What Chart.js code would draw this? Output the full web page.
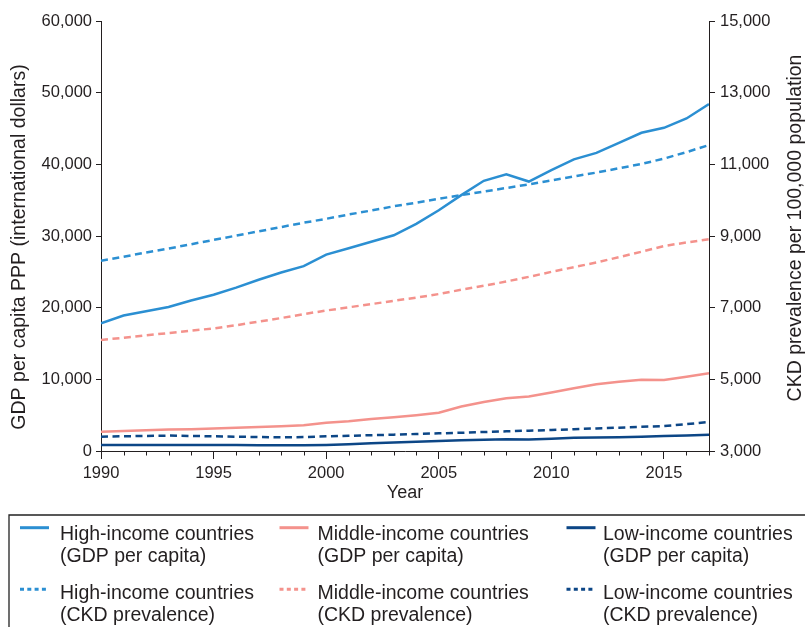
<!DOCTYPE html>
<html>
<head>
<meta charset="utf-8">
<script src="https://cdn.jsdelivr.net/npm/chart.js@4/dist/chart.umd.min.js"></script>
<style>
  html, body { margin: 0; padding: 0; background: #fff; overflow: hidden; }
  #wrap { position: relative; width: 805px; height: 627px; }
</style>
</head>
<body>
<div id="wrap"><canvas id="c" width="805" height="627"></canvas></div>
<script>
// Years on the x axis
const years = [1990, 1991, 1992, 1993, 1994, 1995, 1996, 1997, 1998, 1999,
               2000, 2001, 2002, 2003, 2004, 2005, 2006, 2007, 2008, 2009,
               2010, 2011, 2012, 2013, 2014, 2015, 2016, 2017];

// GDP per capita PPP (international dollars), left axis
const highGdp   = [17800, 18900, 19500, 20100, 21000, 21800, 22800, 23900, 24900, 25800,
                   27400, 28300, 29200, 30100, 31700, 33600, 35700, 37700, 38600, 37600,
                   39200, 40700, 41600, 43000, 44400, 45100, 46400, 48400];
const middleGdp = [2700, 2800, 2900, 3000, 3050, 3150, 3250, 3350, 3450, 3600,
                   3950, 4150, 4450, 4700, 5000, 5350, 6200, 6850, 7350, 7600,
                   8150, 8750, 9300, 9650, 9950, 9900, 10350, 10850];
const lowGdp    = [850, 850, 850, 840, 830, 820, 820, 810, 800, 800,
                   850, 950, 1080, 1200, 1300, 1400, 1500, 1580, 1650, 1600,
                   1700, 1850, 1870, 1920, 2000, 2080, 2180, 2280];

// CKD prevalence per 100,000 population, right axis
const highCkd   = [8310, 8420, 8540, 8650, 8770, 8890, 9010, 9130, 9250, 9370,
                   9480, 9600, 9710, 9830, 9930, 10040, 10140, 10240, 10340, 10440,
                   10550, 10660, 10770, 10890, 11010, 11160, 11340, 11540];
const middleCkd = [6100, 6160, 6230, 6290, 6360, 6420, 6510, 6610, 6710, 6820,
                   6920, 7010, 7100, 7190, 7280, 7380, 7500, 7610, 7730, 7860,
                   8000, 8130, 8260, 8410, 8560, 8720, 8820, 8910];
const lowCkd    = [3400, 3410, 3420, 3430, 3420, 3410, 3400, 3390, 3380, 3390,
                   3410, 3425, 3440, 3456, 3475, 3493, 3510, 3530, 3550, 3568,
                   3586, 3608, 3630, 3652, 3675, 3698, 3750, 3809];

// Axis settings
const gdpTicks = { min: 0, max: 60000, step: 10000 };
const ckdTicks = { min: 3000, max: 15000, step: 2000 };
const yearTicks = { min: 1990, max: 2017, major: 5 };

const leftTitle = 'GDP per capita PPP (international dollars)';
const rightTitle = 'CKD prevalence per 100,000 population';
const bottomTitle = 'Year';

const BLUE = '#2b8fd2';
const SALMON = '#f4928c';
const NAVY = '#0c4686';
const INK = '#231f20';
const FONT = '"Liberation Sans", Arial, sans-serif';

const pts = arr => years.map((y, i) => ({ x: y, y: arr[i] }));

function series(label, legendLines, arr, color, dashed, axis) {
  return {
    label: label,
    legendLines: legendLines,
    data: pts(arr),
    borderColor: color,
    backgroundColor: color,
    borderWidth: 2.5,
    borderDash: dashed ? [7, 4.5] : [],
    pointRadius: 0,
    tension: 0,
    fill: false,
    yAxisID: axis
  };
}

const datasets = [
  series('High-income countries (GDP per capita)', ['High-income countries', '(GDP per capita)'], highGdp, BLUE, false, 'y'),
  series('Middle-income countries (GDP per capita)', ['Middle-income countries', '(GDP per capita)'], middleGdp, SALMON, false, 'y'),
  series('Low-income countries (GDP per capita)', ['Low-income countries', '(GDP per capita)'], lowGdp, NAVY, false, 'y'),
  series('High-income countries (CKD prevalence)', ['High-income countries', '(CKD prevalence)'], highCkd, BLUE, true, 'y1'),
  series('Middle-income countries (CKD prevalence)', ['Middle-income countries', '(CKD prevalence)'], middleCkd, SALMON, true, 'y1'),
  series('Low-income countries (CKD prevalence)', ['Low-income countries', '(CKD prevalence)'], lowCkd, NAVY, true, 'y1')
];

// Minor year ticks, axis titles and the boxed legend
const decorations = {
  id: 'decorations',
  afterDraw(chart) {
    const ctx = chart.ctx;
    const xs = chart.scales.x;
    const area = chart.chartArea;
    ctx.save();

    // minor ticks for every year
    ctx.strokeStyle = INK;
    ctx.lineWidth = 1;
    for (let yr = yearTicks.min; yr <= yearTicks.max; yr++) {
      if (yr % yearTicks.major === 0) continue;
      const px = Math.round(xs.getPixelForValue(yr)) + 0.5;
      ctx.beginPath();
      ctx.moveTo(px, area.bottom);
      ctx.lineTo(px, area.bottom + 4.5);
      ctx.stroke();
    }

    // axis titles
    ctx.fillStyle = INK;
    ctx.font = '19.5px ' + FONT;
    ctx.textAlign = 'center';
    ctx.textBaseline = 'middle';
    ctx.save();
    ctx.translate(20, 247);
    ctx.rotate(-Math.PI / 2);
    ctx.fillText(leftTitle, 0, 0);
    ctx.restore();
    ctx.save();
    ctx.translate(796, 228);
    ctx.rotate(-Math.PI / 2);
    ctx.fillText(rightTitle, 0, 0);
    ctx.restore();
    ctx.font = '18px ' + FONT;
    ctx.textBaseline = 'alphabetic';
    ctx.fillText(bottomTitle, (area.left + area.right) / 2, 498);

    // legend box (open to the right and bottom)
    ctx.strokeStyle = '#222';
    ctx.lineWidth = 1.3;
    ctx.beginPath();
    ctx.moveTo(9, 640);
    ctx.lineTo(9, 515);
    ctx.lineTo(820, 515);
    ctx.stroke();

    const swatchX = [20, 279.5, 566.5];
    const textX = [60, 317.5, 603];
    const swatchY = [527.7, 589.3];
    const baseY = [[540, 562], [598.5, 620.5]];
    ctx.font = '19.5px ' + FONT;
    ctx.textAlign = 'left';
    chart.data.datasets.forEach((ds, i) => {
      const col = i % 3;
      const row = Math.floor(i / 3);
      ctx.strokeStyle = ds.borderColor;
      ctx.lineWidth = 3;
      ctx.setLineDash(ds.borderDash.length ? [4, 3.3] : []);
      ctx.beginPath();
      ctx.moveTo(swatchX[col], swatchY[row]);
      ctx.lineTo(swatchX[col] + 29, swatchY[row]);
      ctx.stroke();
      ctx.setLineDash([]);
      ctx.fillStyle = INK;
      ds.legendLines.forEach((line, k) => ctx.fillText(line, textX[col], baseY[row][k]));
    });
    ctx.restore();
  }
};

const tickFont = { family: FONT, size: 16.5 };

new Chart(document.getElementById('c'), {
  type: 'line',
  data: { datasets: datasets },
  plugins: [decorations],
  options: {
    responsive: false,
    animation: false,
    layout: { padding: { top: 21, left: 0, right: 0, bottom: 0 } },
    plugins: { legend: { display: false }, tooltip: { enabled: false } },
    scales: {
      x: {
        type: 'linear',
        position: 'bottom',
        min: yearTicks.min,
        max: yearTicks.max,
        afterBuildTicks: s => {
          const t = [];
          for (let v = yearTicks.min; v <= yearTicks.max; v += yearTicks.major) t.push({ value: v });
          s.ticks = t;
        },
        afterFit: s => { s.height = 627 - 451; },
        ticks: { font: tickFont, color: INK, padding: 5, maxRotation: 0, autoSkip: false,
                 callback: v => String(v) },
        grid: { drawOnChartArea: false, drawTicks: true, tickLength: 8, color: INK, tickColor: INK },
        border: { display: true, color: INK, width: 1 }
      },
      y: {
        position: 'left',
        min: gdpTicks.min,
        max: gdpTicks.max,
        afterFit: s => { s.width = 101; },
        ticks: { stepSize: gdpTicks.step, font: tickFont, color: INK, padding: 4 },
        grid: { drawOnChartArea: false, drawTicks: true, tickLength: 5, color: INK, tickColor: INK },
        border: { display: true, color: INK, width: 1 }
      },
      y1: {
        position: 'right',
        min: ckdTicks.min,
        max: ckdTicks.max,
        afterFit: s => { s.width = 805 - 709; },
        ticks: { stepSize: ckdTicks.step, font: tickFont, color: INK, padding: 5 },
        grid: { drawOnChartArea: false, drawTicks: true, tickLength: 6, color: INK, tickColor: INK },
        border: { display: true, color: INK, width: 1 }
      }
    }
  }
});
</script>
</body>
</html>
